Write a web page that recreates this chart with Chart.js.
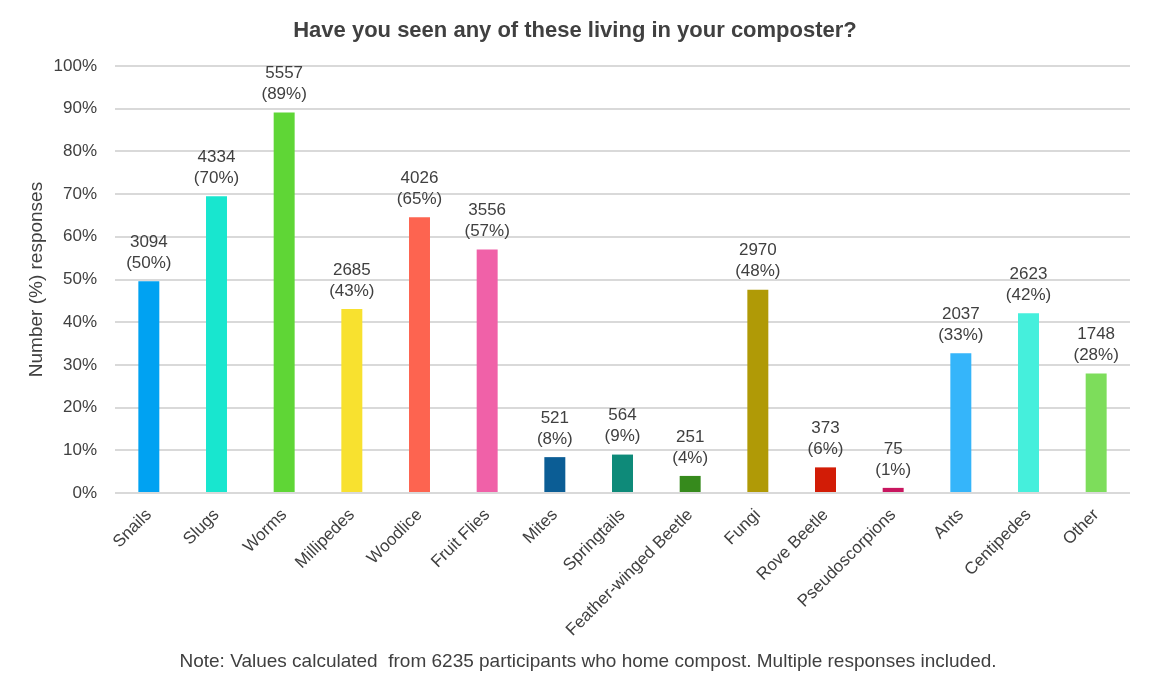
<!DOCTYPE html>
<html lang="en">
<head>
    <meta charset="UTF-8">
    <title>Composter creatures</title>
    <style>
        body{
            margin: 0;
            background: #fff;
            overflow: hidden;
        }
        #wrap{
            width: 1152px;
            height: 697px;
        }
    </style>
</head>
<body>
<div id="wrap"><canvas id="chart"></canvas></div>
<script src="https://cdn.jsdelivr.net/npm/chart.js"></script>
<script>
    const categories = ['Snails', 'Slugs', 'Worms', 'Millipedes', 'Woodlice', 'Fruit Flies', 'Mites', 'Springtails',
        'Feather-winged Beetle', 'Fungi', 'Rove Beetle', 'Pseudoscorpions', 'Ants', 'Centipedes', 'Other'];
    const counts = [3094, 4334, 5557, 2685, 4026, 3556, 521, 564, 251, 2970, 373, 75, 2037, 2623, 1748];
    const percents = [49.6, 69.5, 89.1, 43.1, 64.6, 57.0, 8.4, 9.0, 4.0, 47.6, 6.0, 1.2, 32.7, 42.1, 28.0];
    const percentLabels = ['50%', '70%', '89%', '43%', '65%', '57%', '8%', '9%', '4%', '48%', '6%', '1%', '33%', '42%', '28%'];
    const barColors = ['#00a2f2', '#18e6cf', '#5fd636', '#f8e12f', '#fd6450', '#f061a8', '#0b5d95', '#0e8a79',
        '#368a1c', '#b09a06', '#d21c06', '#c8165f', '#35b5fa', '#45efdc', '#7ddd5b'];
    const yTicks = [0, 10, 20, 30, 40, 50, 60, 70, 80, 90, 100];

    const titleText = 'Have you seen any of these living in your composter?';
    const noteText = 'Note: Values calculated  from 6235 participants who home compost. Multiple responses included.';

    const FONT = '"Liberation Sans", Arial, sans-serif';

    // title, footnote and the two-line value labels above each bar
    const textPlugin = {
        id: 'texts',
        afterDatasetsDraw(chart){
            const ctx = chart.ctx;
            ctx.save();
            ctx.fillStyle = '#404040';
            ctx.textAlign = 'center';
            ctx.textBaseline = 'middle';
            ctx.font = 'bold 22px ' + FONT;
            ctx.fillText(titleText, 575, 31);
            ctx.font = '19px ' + FONT;
            ctx.fillText(noteText, 588, 662);

            const meta = chart.getDatasetMeta(0);
            ctx.font = '17px ' + FONT;
            meta.data.forEach((bar, i) => {
                ctx.fillText(String(counts[i]), bar.x, bar.y - 39);
                ctx.fillText('(' + percentLabels[i] + ')', bar.x, bar.y - 18);
            });
            ctx.restore();
        }
    };

    new Chart(document.getElementById('chart'), {
        type: 'bar',
        data: {
            labels: categories,
            datasets: [{
                data: percents,
                backgroundColor: barColors,
                borderWidth: 0,
                barPercentage: 0.31,
                categoryPercentage: 1.0
            }]
        },
        options: {
            responsive: true,
            maintainAspectRatio: false,
            animation: false,
            layout: {
                padding: {top: 66, right: 22, bottom: 0, left: 0}
            },
            plugins: {
                legend: {display: false},
                title: {display: false},
                tooltip: {enabled: false}
            },
            scales: {
                x: {
                    grid: {display: false},
                    border: {display: false},
                    ticks: {
                        color: '#404040',
                        font: {family: FONT, size: 17},
                        minRotation: 45,
                        maxRotation: 45,
                        autoSkip: false,
                        padding: 4
                    },
                    afterFit(scale){
                        scale.height = 204;
                    }
                },
                y: {
                    min: 0,
                    max: 100,
                    afterBuildTicks(scale){
                        scale.ticks = yTicks.map(v => ({value: v}));
                    },
                    grid: {color: '#d9d9d9', lineWidth: 2, drawTicks: false},
                    border: {display: false},
                    ticks: {
                        color: '#404040',
                        font: {family: FONT, size: 17},
                        padding: 18,
                        callback: v => v + '%'
                    },
                    title: {
                        display: true,
                        text: 'Number (%) responses',
                        color: '#404040',
                        font: {family: FONT, size: 19},
                        padding: {top: 25, bottom: 0}
                    },
                    afterFit(scale){
                        scale.width = 115;
                    }
                }
            }
        },
        plugins: [textPlugin]
    });
</script>
</body>
</html>
